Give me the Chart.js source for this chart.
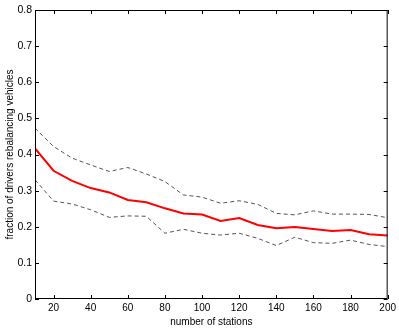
<!DOCTYPE html>
<html>
<head>
<meta charset="utf-8">
<script src="https://cdn.jsdelivr.net/npm/chart.js@4/dist/chart.umd.min.js"></script>
<style>
  html, body { margin: 0; padding: 0; background: #fff; }
  #wrap { width: 399px; height: 332px; }
</style>
</head>
<body>
<div id="wrap"><canvas id="chart" width="399" height="332"></canvas></div>
<script>
// number of stations
const stations = [10, 20, 30, 40, 50, 60, 70, 80, 90, 100, 110, 120, 130, 140, 150, 160, 170, 180, 190, 200];
// fraction of drivers rebalancing vehicles
const meanFrac = [0.417, 0.355, 0.327, 0.307, 0.295, 0.274, 0.268, 0.251, 0.237, 0.234, 0.216, 0.224, 0.205, 0.196, 0.199, 0.194, 0.188, 0.191, 0.179, 0.176];
const upperFrac = [0.473, 0.422, 0.39, 0.371, 0.353, 0.364, 0.346, 0.325, 0.288, 0.282, 0.265, 0.272, 0.262, 0.237, 0.233, 0.244, 0.235, 0.235, 0.234, 0.225];
const lowerFrac = [0.33, 0.271, 0.263, 0.247, 0.226, 0.23, 0.229, 0.182, 0.193, 0.182, 0.177, 0.182, 0.168, 0.148, 0.171, 0.156, 0.154, 0.163, 0.151, 0.145];

const xTicks = [20, 40, 60, 80, 100, 120, 140, 160, 180, 200];
const yTicks = [0, 0.1, 0.2, 0.3, 0.4, 0.5, 0.6, 0.7, 0.8];

const toPoints = (arr) => arr.map((v, i) => ({ x: stations[i], y: v }));

// matlab style box with inward ticks
const boxTicks = {
  id: "boxTicks",
  afterDraw(chart) {
    const { ctx, chartArea: a, scales } = chart;
    ctx.save();
    ctx.strokeStyle = "#000";
    ctx.lineWidth = 1;
    ctx.strokeRect(a.left + 0.5, a.top + 0.5, a.right - a.left - 1, a.bottom - a.top - 1);
    ctx.beginPath();
    xTicks.forEach((v) => {
      const px = Math.round(scales.x.getPixelForValue(v)) + 0.5;
      ctx.moveTo(px, a.bottom); ctx.lineTo(px, a.bottom - 4);
      ctx.moveTo(px, a.top); ctx.lineTo(px, a.top + 4);
    });
    yTicks.forEach((v) => {
      const py = Math.round(scales.y.getPixelForValue(v)) + 0.5;
      ctx.moveTo(a.left, py); ctx.lineTo(a.left + 4, py);
      ctx.moveTo(a.right, py); ctx.lineTo(a.right - 4, py);
    });
    ctx.stroke();
    ctx.restore();
  },
};

const ctx = document.getElementById("chart").getContext("2d");
new Chart(ctx, {
  type: "line",
  data: {
    datasets: [
      {
        label: "upper",
        data: toPoints(upperFrac),
        borderColor: "#555",
        borderWidth: 1,
        borderDash: [4, 3],
        pointRadius: 0,
        tension: 0,
      },
      {
        label: "lower",
        data: toPoints(lowerFrac),
        borderColor: "#555",
        borderWidth: 1,
        borderDash: [4, 3],
        pointRadius: 0,
        tension: 0,
      },
      {
        label: "mean",
        data: toPoints(meanFrac),
        borderColor: "#ff0000",
        borderWidth: 2,
        pointRadius: 0,
        tension: 0,
      },
    ],
  },
  options: {
    responsive: false,
    animation: false,
    layout: { padding: { top: 10, right: 11, left: 0, bottom: 0 } },
    plugins: {
      legend: { display: false },
      tooltip: { enabled: false },
    },
    scales: {
      x: {
        type: "linear",
        min: 10,
        max: 200,
        afterBuildTicks: (s) => { s.ticks = xTicks.map((v) => ({ value: v })); },
        afterFit: (s) => { s.height = 33; },
        grid: { display: false, drawTicks: false },
        border: { display: false },
        ticks: {
          color: "#000",
          padding: 3,
          maxRotation: 0,
          font: { family: "Liberation Sans", size: 10 },
        },
        title: {
          display: true,
          text: "number of stations",
          color: "#000",
          padding: { top: 0, bottom: 4 },
          font: { family: "Liberation Sans", size: 10 },
        },
      },
      y: {
        min: 0,
        max: 0.8,
        afterBuildTicks: (s) => { s.ticks = yTicks.map((v) => ({ value: v })); },
        afterFit: (s) => { s.width = 35; },
        grid: { display: false, drawTicks: false },
        border: { display: false },
        ticks: {
          color: "#000",
          padding: 3,
          font: { family: "Liberation Sans", size: 10.5 },
          callback: (v) => String(Math.round(v * 10) / 10),
        },
        title: {
          display: true,
          text: "fraction of drivers rebalancing vehicles",
          color: "#000",
          padding: { top: 4, bottom: 0 },
          font: { family: "Liberation Sans", size: 10 },
        },
      },
    },
  },
  plugins: [boxTicks],
});
</script>
</body>
</html>
